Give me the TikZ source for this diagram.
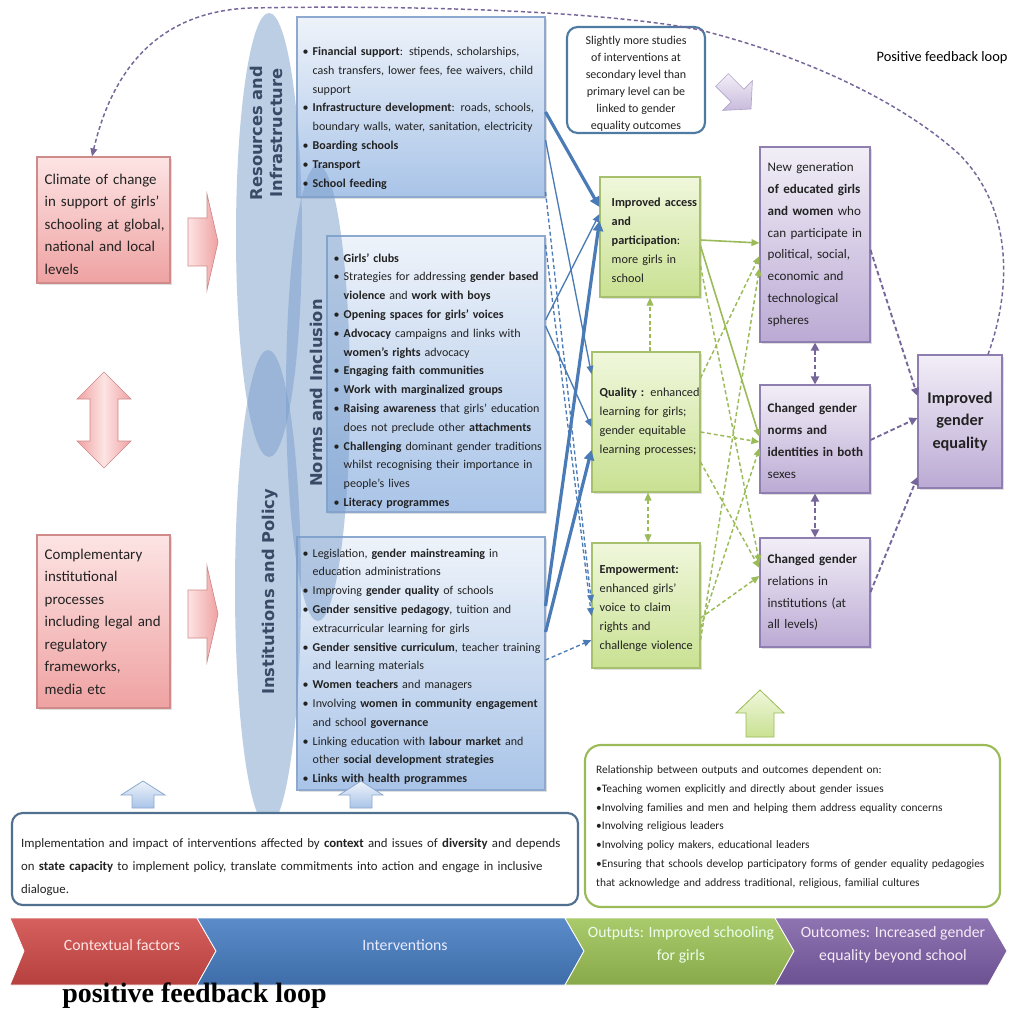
\documentclass[tikz,border=0pt]{standalone}
\usepackage{fontspec}
\setmainfont{Carlito}
\newfontfamily\labfont{DejaVu Sans}
\newfontfamily\serifbold{Liberation Serif}
\usetikzlibrary{arrows.meta,fit,shadows,calc}

\definecolor{btop}{HTML}{EEF3FA}
\definecolor{bbot}{HTML}{A9C4E8}
\definecolor{bbord}{HTML}{8DA9CF}
\definecolor{gtop}{HTML}{F0F7DC}
\definecolor{gbot}{HTML}{C9E192}
\definecolor{gbord}{HTML}{A6C06E}
\definecolor{ptop}{HTML}{F2EEF7}
\definecolor{pbot}{HTML}{BBAAD4}
\definecolor{pbord}{HTML}{8F7FB0}
\definecolor{rtop}{HTML}{FDE4E4}
\definecolor{rbot}{HTML}{EFA2A2}
\definecolor{rbord}{HTML}{CF8A8A}
\definecolor{ellc}{HTML}{7A9ECB}
\definecolor{labc}{HTML}{3A4966}
\definecolor{tx}{HTML}{222222}
\definecolor{barrow}{HTML}{4A7BB7}
\definecolor{garrow}{HTML}{9BBB59}
\definecolor{parrow}{HTML}{76669A}
\definecolor{noteblue}{HTML}{4F7BA3}
\definecolor{noteblue2}{HTML}{50708F}
\definecolor{chred1}{HTML}{D5605D}
\definecolor{chred2}{HTML}{B5403D}
\definecolor{chblue1}{HTML}{5B8CC9}
\definecolor{chblue2}{HTML}{3E6DA9}
\definecolor{chgreen1}{HTML}{AACA6B}
\definecolor{chgreen2}{HTML}{88A94A}
\definecolor{chpur1}{HTML}{8F74B2}
\definecolor{chpur2}{HTML}{6C5192}

\newcommand{\bitem}[1]{\par\hangindent=7.5pt\hangafter=1\noindent\hbox to 7.5pt{\textbullet\hss}#1}
\newcommand{\nl}{\newline}

\tikzset{
  boxshadow/.style={drop shadow={opacity=0.25, shadow xshift=1.5pt, shadow yshift=-1.5pt}},
  bluebox/.style={draw=bbord, line width=0.8pt, top color=btop, bottom color=bbot, inner sep=0pt, boxshadow},
  greenbox/.style={draw=gbord, line width=0.8pt, top color=gtop, bottom color=gbot, inner sep=0pt, boxshadow},
  purplebox/.style={draw=pbord, line width=0.8pt, top color=ptop, bottom color=pbot, inner sep=0pt, boxshadow},
  pinkbox/.style={draw=rbord, line width=0.8pt, top color=rtop, bottom color=rbot, inner sep=0pt, boxshadow},
  btxt/.style={anchor=west, inner sep=0pt, text width=220pt, text=tx, font=\fontsize{9}{14.1}\selectfont},
  gtxt/.style={anchor=west, inner sep=0pt, text width=120pt, text=tx, font=\fontsize{9.2}{14.2}\selectfont},
  ptxt/.style={anchor=west, inner sep=0pt, text width=120pt, text=tx, font=\fontsize{9.8}{16.3}\selectfont},
  rtxt/.style={anchor=west, inner sep=0pt, text width=140pt, text=tx, font=\fontsize{11.2}{16.9}\selectfont},
  lab/.style={rotate=90, align=center, text=labc, inner sep=0pt, font=\labfont\bfseries\fontsize{12.2}{15}\selectfont},
  bthick/.style={draw=barrow, line width=2.4pt, -{Triangle[length=7.5pt,width=7.5pt]}},
  bthin/.style={draw=barrow, line width=1pt, -{Triangle[length=6pt,width=5pt]}},
  bdash/.style={draw=barrow, line width=1pt, dash pattern=on 3pt off 2pt, -{Triangle[length=6pt,width=5pt]}},
  gsolid/.style={draw=garrow, line width=1.2pt, -{Triangle[length=6pt,width=5pt]}},
  gdash/.style={draw=garrow, line width=1.1pt, dash pattern=on 3pt off 2pt, -{Triangle[length=6pt,width=5pt]}},
  gdash2/.style={draw=garrow, line width=1.1pt, dash pattern=on 3pt off 2pt, {Triangle[length=6pt,width=5pt]}-{Triangle[length=6pt,width=5pt]}},
  pdash/.style={draw=parrow, line width=1.4pt, dash pattern=on 3.5pt off 2pt, -{Triangle[length=6pt,width=6pt]}},
  pdash2/.style={draw=parrow, line width=1.4pt, dash pattern=on 3.5pt off 2pt, {Triangle[length=6pt,width=6pt]}-{Triangle[length=6pt,width=6pt]}},
  loopline/.style={draw=parrow, line width=1.1pt, dash pattern=on 3pt off 2pt, -{Triangle[length=6pt,width=5pt]}},
  notebox/.style={draw=noteblue, line width=1.6pt, fill=white, rounded corners=8pt, inner sep=0pt},
  chev/.style={draw=white, line width=0.6pt},
  chtxt/.style={align=center, inner sep=0pt, font=\fontsize{11.8}{17.5}\selectfont},
}

\begin{document}
\begin{tikzpicture}[x=0.75pt,y=-0.75pt]
\useasboundingbox (0,0) rectangle (1017,1009);
\fill[white] (0,0) rectangle (1017,1009);

% ---------- boxes ----------
\node[bluebox, fit={(297,17)(545,197)}] (res) {};
\node[bluebox, fit={(327,236)(545,512)}] (nrm) {};
\node[bluebox, fit={(297,537)(545,790)}] (ins) {};
\node[pinkbox, fit={(37,157)(170,283)}] (clim) {};
\node[pinkbox, fit={(37,535)(170,708)}] (comp) {};
\node[greenbox, fit={(600,177)(700,297)}] (acc) {};
\node[greenbox, fit={(592,352)(700,492)}] (qual) {};
\node[greenbox, fit={(592,543)(700,668)}] (emp) {};
\node[purplebox, fit={(760,147)(870,342)}] (ng) {};
\node[purplebox, fit={(760,385)(870,493)}] (cgn) {};
\node[purplebox, fit={(760,538)(870,647)}] (cgr) {};
\node[purplebox, fit={(918,355)(1002,488)}] (ige) {};

% ---------- ellipses ----------
\fill[ellc, opacity=0.5] (269,235) ellipse [x radius=24.75pt, y radius=166.5pt];
\fill[ellc, opacity=0.5] (268,588) ellipse [x radius=24.75pt, y radius=178.5pt];
\fill[ellc, opacity=0.5] (318,393) ellipse [x radius=24pt, y radius=171pt];

\node[lab] (lres) at (266,133) {Resources and\\Infrastructure};
\node[lab] (lnrm) at (316,393) {Norms and Inclusion};
\node[lab] (lins) at (270,592) {Institutions and Policy};

% ---------- box texts ----------
\node[btxt] (restx) at ($(res.west)+(6,6)$) {%
\bitem{\textbf{Financial support}: stipends, scholarships,\nl cash transfers, lower fees, fee waivers, child\nl support}
\bitem{\textbf{Infrastructure development}: roads, schools,\nl boundary walls, water, sanitation, electricity}
\bitem{\textbf{Boarding schools}}
\bitem{\textbf{Transport}}
\bitem{\textbf{School feeding}}};

\node[btxt] (nrmtx) at ($(nrm.west)+(7,2)$) {%
\bitem{\textbf{Girls' clubs}}
\bitem{Strategies for addressing \textbf{gender based}\nl \textbf{violence} and \textbf{work with boys}}
\bitem{\textbf{Opening spaces for girls' voices}}
\bitem{\textbf{Advocacy} campaigns and links with\nl \textbf{women's rights} advocacy}
\bitem{\textbf{Engaging faith communities}}
\bitem{\textbf{Work with marginalized groups}}
\bitem{\textbf{Raising awareness} that girls' education\nl does not preclude other \textbf{attachments}}
\bitem{\textbf{Challenging} dominant gender traditions\nl whilst recognising their importance in\nl people's lives}
\bitem{\textbf{Literacy programmes}}};

\node[btxt] (instx) at ($(ins.west)+(6,-2)$) {%
\bitem{Legislation, \textbf{gender mainstreaming} in\nl education administrations}
\bitem{Improving \textbf{gender quality} of schools}
\bitem{\textbf{Gender sensitive pedagogy}, tuition and\nl extracurricular learning for girls}
\bitem{\textbf{Gender sensitive curriculum}, teacher training\nl and learning materials}
\bitem{\textbf{Women teachers} and managers}
\bitem{Involving \textbf{women in community engagement}\nl and school \textbf{governance}}
\bitem{Linking education with \textbf{labour market} and\nl other \textbf{social development strategies}}
\bitem{\textbf{Links with health programmes}}};

\node[rtxt] (climtx) at ($(clim.west)+(8,4)$) {Climate of change\nl in support of girls'\nl schooling at global,\nl national and local\nl levels};
\node[rtxt] (comptx) at ($(comp.west)+(8,0)$) {Complementary\nl institutional\nl processes\nl including legal and\nl regulatory\nl frameworks,\nl media etc};

\node[gtxt] (acctx) at ($(acc.west)+(12,3)$) {\textbf{Improved access}\nl \textbf{and}\nl \textbf{participation}:\nl more girls in\nl school};
\node[gtxt] (qualtx) at ($(qual.west)+(8,0)$) {\textbf{Quality :} enhanced\nl learning for girls;\nl gender equitable\nl learning processes;};
\node[gtxt] (emptx) at ($(emp.west)+(8,3)$) {\textbf{Empowerment:}\nl enhanced girls'\nl voice to claim\nl rights and\nl challenge violence};

\node[ptxt] (ngtx) at ($(ng.west)+(8,0)$) {New generation\nl \textbf{of educated girls}\nl \textbf{and women} who\nl can participate in\nl political, social,\nl economic and\nl technological\nl spheres};
\node[ptxt] (cgntx) at ($(cgn.west)+(8,2)$) {\textbf{Changed gender}\nl \textbf{norms and}\nl \textbf{identities in both}\nl sexes};
\node[ptxt] (cgrtx) at ($(cgr.west)+(8,0)$) {\textbf{Changed gender}\nl relations in\nl institutions (at\nl all levels)};
\node[align=center, text=tx, inner sep=0pt, font=\bfseries\fontsize{12.2}{16.9}\selectfont] (igetx) at (ige.center) {Improved\\gender\\equality};

% ---------- left block arrows ----------
\path[draw=rbord, line width=0.5pt, left color=rtop, right color=rbot]
  (188,218) -- (207,218) -- (207,194) -- (218,242) -- (207,290) -- (207,266) -- (188,266) -- cycle;
\path[draw=rbord, line width=0.5pt, left color=rtop, right color=rbot]
  (188,590) -- (207,590) -- (207,566) -- (218,614) -- (207,662) -- (207,638) -- (188,638) -- cycle;
\path[draw=rbord, line width=0.5pt, left color=rbot, right color=rbot, middle color=rtop]
  (104,372) -- (131,399) -- (118,399) -- (118,441) -- (131,441) -- (104,468) -- (77,441) -- (90,441) -- (90,399) -- (77,399) -- cycle;

% ---------- top note ----------
\node[notebox, fit={(567,27)(705,133)}] (note1) {};
\node[align=center, text=tx, inner sep=0pt, font=\fontsize{9}{12.8}\selectfont] (note1tx) at ($(note1.center)+(0,4)$) {Slightly more studies\\of interventions at\\secondary level than\\primary level can be\\linked to gender\\equality outcomes};

% purple diagonal block arrow
\begin{scope}[shift={(722,80)}, rotate=-45]
\path[draw=pbord!70, line width=0.5pt, top color=ptop, bottom color=pbot!80]
  (0,-9) -- (22,-9) -- (22,-21) -- (41,0) -- (22,21) -- (22,9) -- (0,9) -- cycle;
\end{scope}

\node[text=black, inner sep=0pt, font=\fontsize{10.8}{12}\selectfont] (pfl) at (942,58) {Positive feedback loop};

% ---------- blue connectors ----------
\draw[bdash] (res.east |- 0,192) -- (emp.west |- 0,603);
\draw[bdash] (nrm.east |- 0,245) -- (emp.west |- 0,616);
\draw[bdash] (ins.east |- 0,660) -- (emp.west |- 0,640);
\draw[bthin] (res.east |- 0,140) -- (qual.west |- 0,374);
\draw[bthin] (nrm.east |- 0,320) -- (acc.west |- 0,214);
\draw[bthin] (nrm.east |- 0,326) -- (qual.west |- 0,427);
\draw[bthick] (res.east |- 0,112) -- (acc.west |- 0,207);
\draw[bthick] (ins.east |- 0,606) -- (acc.west |- 0,221);
\draw[bthick] (ins.east |- 0,632) -- (qual.west |- 0,450);

% ---------- green connectors ----------
\draw[gsolid] (acc.east |- 0,240) -- (ng.west |- 0,243);
\draw[gsolid] (acc.east |- 0,246) -- (cgn.west |- 0,437);
\draw[gdash] (acc.east |- 0,266) -- (cgr.west |- 0,563);
\draw[gdash] (qual.east |- 0,378) -- (ng.west |- 0,256);
\draw[gdash] (qual.east |- 0,432) -- (cgn.west |- 0,442);
\draw[gdash] (qual.east |- 0,462) -- (cgr.west |- 0,568);
\draw[gdash] (emp.east |- 0,640) -- (ng.west |- 0,268);
\draw[gdash] (emp.east |- 0,628) -- (cgn.west |- 0,448);
\draw[gdash] (emp.east |- 0,618) -- (cgr.west |- 0,576);
\draw[gdash] (qual.north -| 650,0) -- (acc.south -| 650,0);
\draw[gdash2] (qual.south -| 648,0) -- (emp.north -| 648,0);

% ---------- purple connectors ----------
\draw[pdash] (ng.east |- 0,250) -- (ige.west |- 0,396);
\draw[pdash] (cgn.east |- 0,440) -- (ige.west |- 0,418);
\draw[pdash] (cgr.east |- 0,592) -- (ige.west |- 0,477);
\draw[pdash2] (ng.south -| 815,0) -- (cgn.north -| 815,0);
\draw[pdash2] (cgn.south -| 815,0) -- (cgr.north -| 815,0);

% ---------- feedback loop ----------
\draw[loopline] (ige.north -| 988,0) .. controls (1008,300) and (1018,215) .. (960,155)
  .. controls (900,100) and (800,55) .. (700,30)
  .. controls (600,10) and (400,5) .. (250,8)
  .. controls (150,12) and (110,80) .. (clim.north -| 92,0);

% ---------- green up arrow & bottom-right note ----------
\path[draw=garrow, line width=0.6pt, top color=gtop, bottom color=gbot]
  (760,690) -- (784,713) -- (774,713) -- (774,737) -- (746,737) -- (746,713) -- (736,713) -- cycle;
\node[notebox, draw=garrow, rounded corners=12pt, fit={(585,745)(1000,907)}] (note2) {};
\node[anchor=west, inner sep=0pt, text width=320pt, text=tx, font=\fontsize{8.55}{14.2}\selectfont] (note2tx) at ($(note2.west)+(12,1)$) {%
Relationship between outputs and outcomes dependent on:\nl
•Teaching women explicitly and directly about gender issues\nl
•Involving families and men and helping them address equality concerns\nl
•Involving religious leaders\nl
•Involving policy makers, educational leaders\nl
•Ensuring that schools develop participatory forms of gender equality pedagogies\nl
that acknowledge and address traditional, religious, familial cultures};

% ---------- blue up arrows & bottom-left note ----------
\path[draw=bbord, line width=0.6pt, top color=btop, bottom color=bbot]
  (143,781) -- (165,795) -- (154,795) -- (154,808) -- (132,808) -- (132,795) -- (121,795) -- cycle;
\path[draw=bbord, line width=0.6pt, top color=btop, bottom color=bbot]
  (361,781) -- (383,795) -- (372,795) -- (372,808) -- (350,808) -- (350,795) -- (339,795) -- cycle;
\node[notebox, draw=noteblue2, fit={(12,813)(578,905)}] (note3) {};
\node[anchor=west, inner sep=0pt, text width=430pt, text=tx, font=\fontsize{9.6}{17.2}\selectfont] (note3tx) at ($(note3.west)+(10,8)$) {%
Implementation and impact of interventions affected by \textbf{context} and issues of \textbf{diversity} and depends\nl
on \textbf{state capacity} to implement policy, translate commitments into action and engage in inclusive\nl
dialogue.};

% ---------- bottom banner ----------
\path[chev, top color=chred1, bottom color=chred2] (10,918) -- (197,918) -- (216,951) -- (197,985) -- (10,985) -- (24,951) -- cycle;
\path[chev, top color=chblue1, bottom color=chblue2] (197,918) -- (565,918) -- (584,951) -- (565,985) -- (197,985) -- (216,951) -- cycle;
\path[chev, top color=chgreen1, bottom color=chgreen2] (565,918) -- (775,918) -- (794,951) -- (775,985) -- (565,985) -- (584,951) -- cycle;
\path[chev, top color=chpur1, bottom color=chpur2] (775,918) -- (988,918) -- (1007,951) -- (988,985) -- (775,985) -- (794,951) -- cycle;
\node[chtxt, text=red!10] (ch1) at (122,945) {Contextual factors};
\node[chtxt, text=blue!8] (ch2) at (405,945) {Interventions};
\node[chtxt, text=white!92!green] (ch3) at (681,945) {Outputs: Improved schooling\\for girls};
\node[chtxt, text=white!92!violet] (ch4) at (893,945) {Outcomes: Increased gender\\equality beyond school};

\node[anchor=west, inner sep=0pt, font=\serifbold\bfseries\fontsize{21}{24}\selectfont] (pfl2) at (62,996) {positive feedback loop};
\end{tikzpicture}
\end{document}
